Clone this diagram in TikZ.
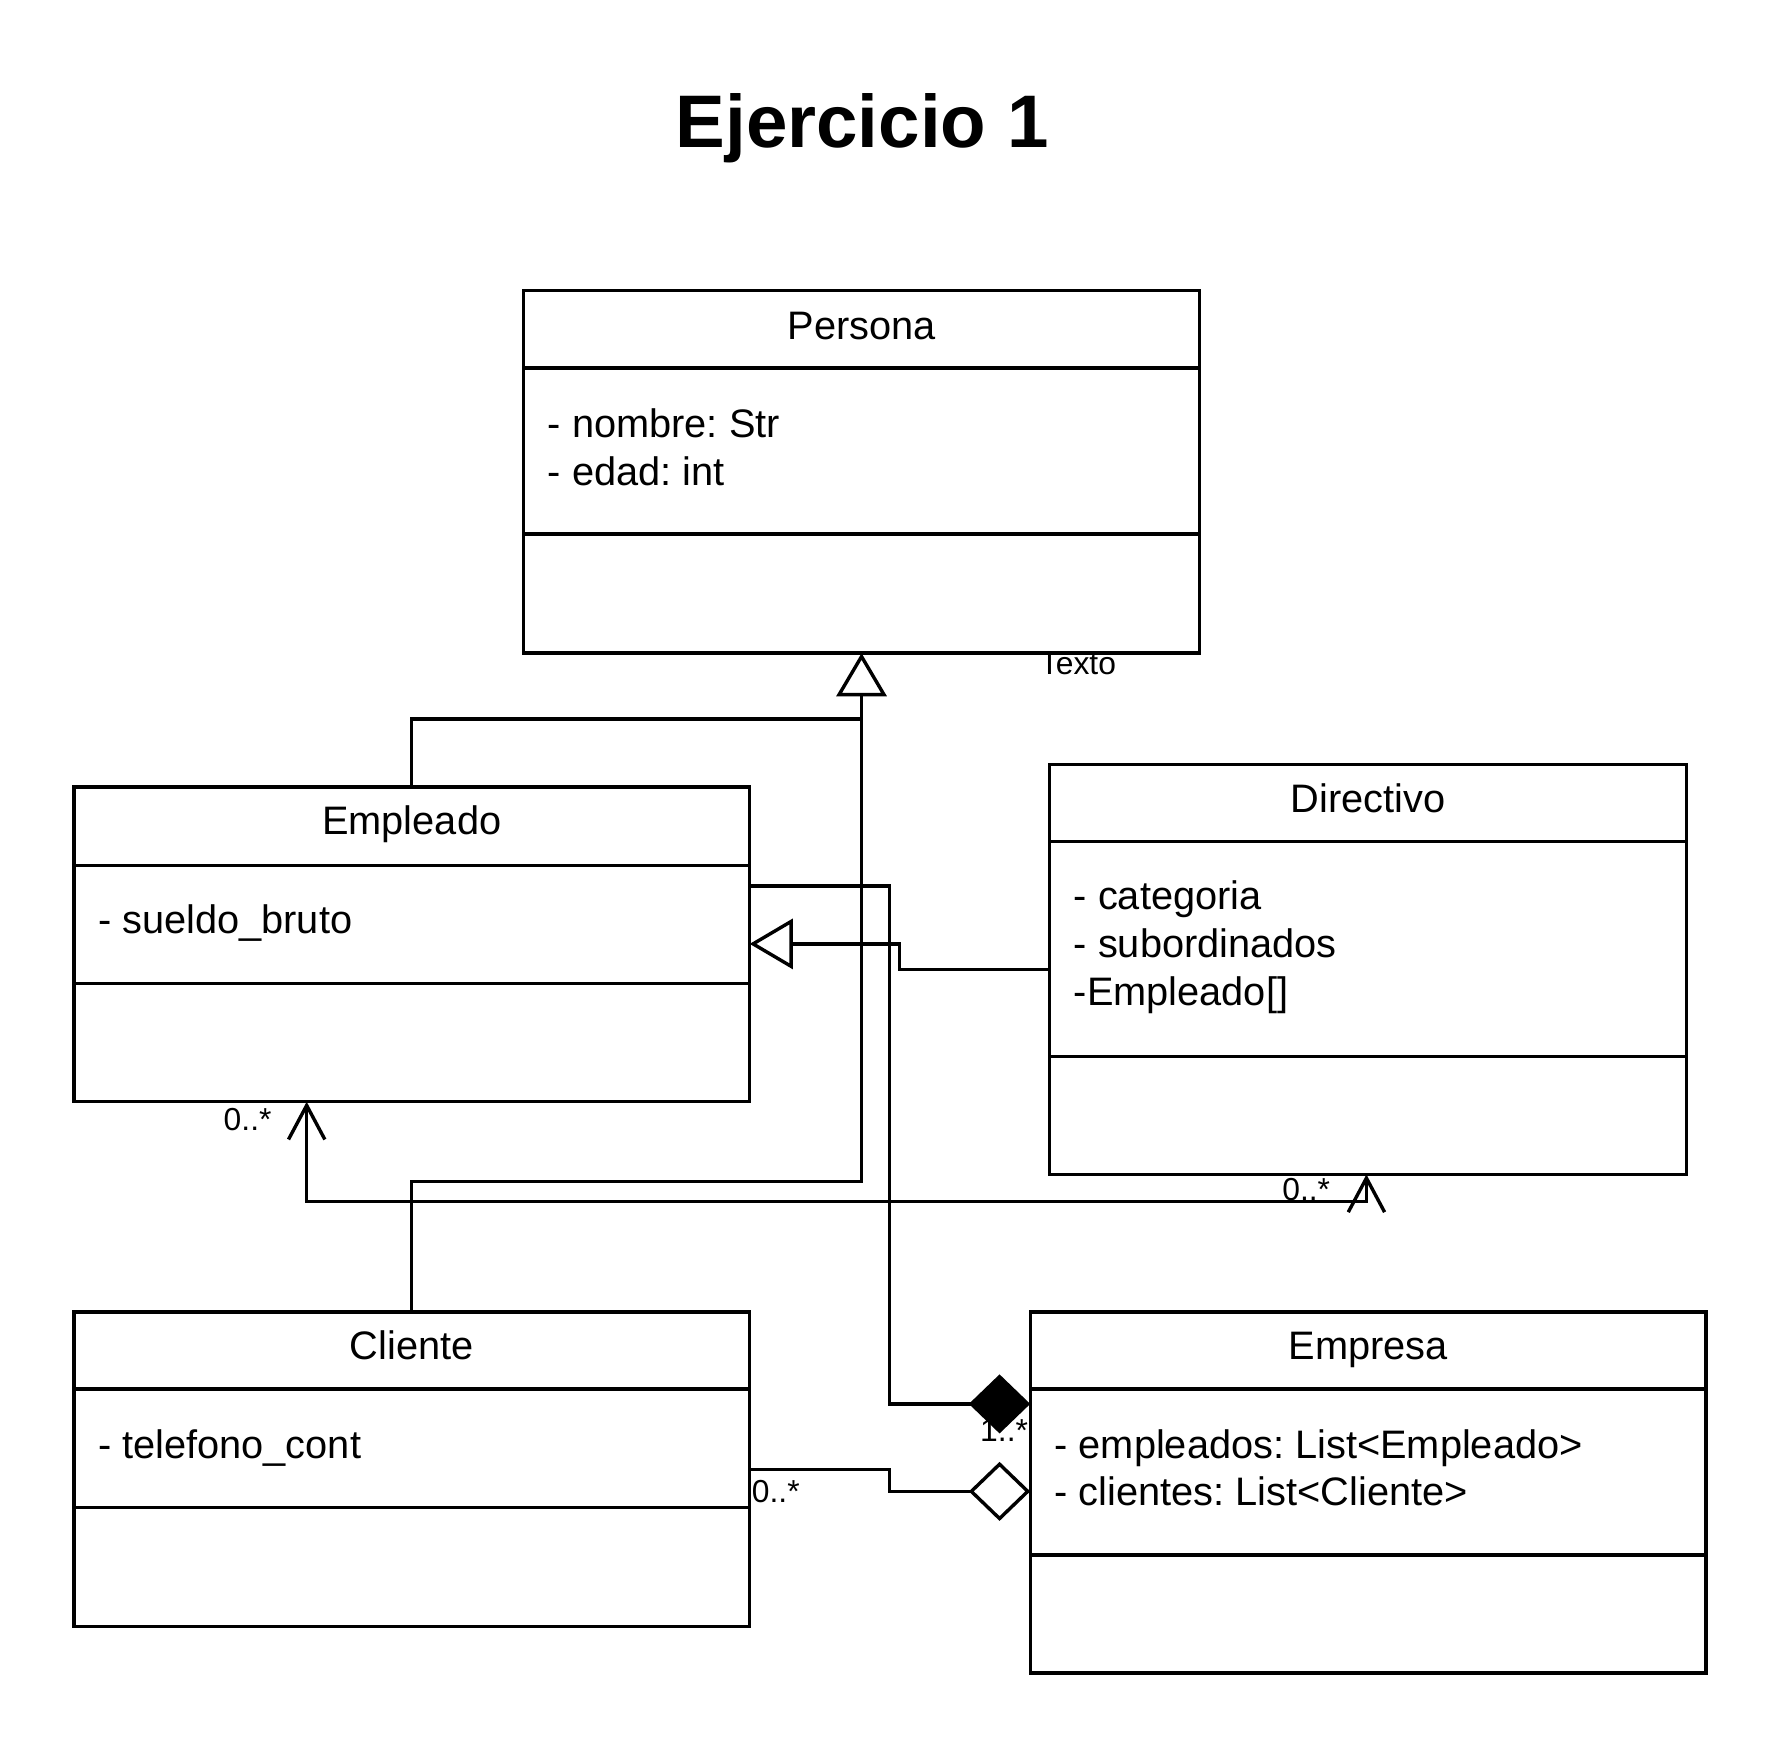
\documentclass[tikz,border=0pt]{standalone}
\usepackage{fontspec}
\setmainfont{Liberation Sans}
\usetikzlibrary{arrows.meta}
\frenchspacing
\begin{document}
\begin{tikzpicture}[x=0.5pt,y=-0.5pt,
  lw/.style={line width=1.5pt},
  classbox/.style={draw, lw, fill=white, inner sep=0pt, outer sep=0pt, rectangle},
  cname/.style={font=\fontsize{17.5pt}{21pt}\selectfont, anchor=base, inner sep=0pt},
  attr/.style={font=\fontsize{17.5pt}{21pt}\selectfont, anchor=base west, inner sep=0pt},
  mult/.style={font=\fontsize{14pt}{16pt}\selectfont, anchor=base, inner sep=0pt},
  conn/.style={lw, line join=miter},
  gen/.style={conn, -{Triangle[open, length=19pt, width=22pt]}},
  comp/.style={conn, {Diamond[length=27pt, width=26pt]}-},
  aggr/.style={conn, {Diamond[open, length=27pt, width=26pt]}-},
  assoc/.style={conn, {Straight Barb[length=15pt, width=16pt]}-{Straight Barb[length=15pt, width=16pt]}}
]
\fill[white] (0,0) rectangle (1568,1540);
\useasboundingbox (0,0) rectangle (1568,1540);

\node[font=\fontsize{32.8pt}{38pt}\selectfont\bfseries, anchor=base, inner sep=0pt] (title) at (759,130) {Ejercicio 1};

% label partly under Persona border
\node[mult] (texto) at (949,594) {Texto};

% classes
\node[classbox, minimum width=297.5pt, minimum height=159.5pt] (persona) at (758.5,415.5) {};
\node[classbox, minimum width=297.5pt, minimum height=138.5pt] (empleado) at (362.5,831.5) {};
\node[classbox, minimum width=280.5pt, minimum height=180.5pt] (directivo) at (1204.5,853.5) {};
\node[classbox, minimum width=297.5pt, minimum height=138.5pt] (cliente) at (362.5,1293.5) {};
\node[classbox, minimum width=297.5pt, minimum height=159pt] (empresa) at (1204.5,1314) {};

% separators
\draw[lw] (persona.west |- 0,324) -- (persona.east |- 0,324);
\draw[lw] (persona.west |- 0,470) -- (persona.east |- 0,470);
\draw[lw] (empleado.west |- 0,762) -- (empleado.east |- 0,762);
\draw[lw] (empleado.west |- 0,866) -- (empleado.east |- 0,866);
\draw[lw] (directivo.west |- 0,741) -- (directivo.east |- 0,741);
\draw[lw] (directivo.west |- 0,930) -- (directivo.east |- 0,930);
\draw[lw] (cliente.west |- 0,1223) -- (cliente.east |- 0,1223);
\draw[lw] (cliente.west |- 0,1327) -- (cliente.east |- 0,1327);
\draw[lw] (empresa.west |- 0,1223) -- (empresa.east |- 0,1223);
\draw[lw] (empresa.west |- 0,1369) -- (empresa.east |- 0,1369);

% texts
\node[cname] (personaname) at (758.5,299) {Persona};
\node[attr] (pa1) at (482,385) {- nombre: Str};
\node[attr] (pa2) at (482,427) {- edad: int};

\node[cname] (empleadoname) at (362.5,735) {Empleado};
\node[attr] (ea1) at (86,822) {- sueldo\_bruto};

\node[cname] (directivoname) at (1204.5,715) {Directivo};
\node[attr] (da1) at (945,801) {- categoria};
\node[attr] (da2) at (945,843) {- subordinados};
\node[attr] (da3) at (945,885) {-Empleado[]};

\node[cname] (clientename) at (362.5,1197) {Cliente};
\node[attr] (ca1) at (86,1284) {- telefono\_cont};

\node[cname] (empresaname) at (1204.5,1197) {Empresa};
\node[attr] (ma1) at (928,1284) {- empleados: List<Empleado>};
\node[attr] (ma2) at (928,1325) {- clientes: List<Cliente>};

% generalizations
\coordinate (pbase) at (758.5,615);
\draw[gen] (empleado.north) |- (758.5,633) -- (persona.south);
\draw[conn] (cliente.north) |- (758.5,1040) -- (pbase);
\draw[gen] (directivo.west) -- (792,853.5) -- (792,831) -- (empleado.east |- 0,831);

% composition / aggregation
\draw[comp] (empresa.west |- 0,1236) -| (783,780) -- (empleado.east |- 0,780);
\draw[aggr] (empresa.west |- 0,1313) -| (783,1294) -- (cliente.east |- 0,1294);

% association
\draw[assoc] (empleado.south -| 270,0) |- (1203,1058) -- (directivo.south -| 1203,0);

% multiplicities
\node[mult] (m1) at (218,995) {0..*};
\node[mult] (m2) at (1150,1057) {0..*};
\node[mult] (m3) at (884,1269) {1..*};
\node[mult] (m4) at (683,1323) {0..*};
\end{tikzpicture}
\end{document}
